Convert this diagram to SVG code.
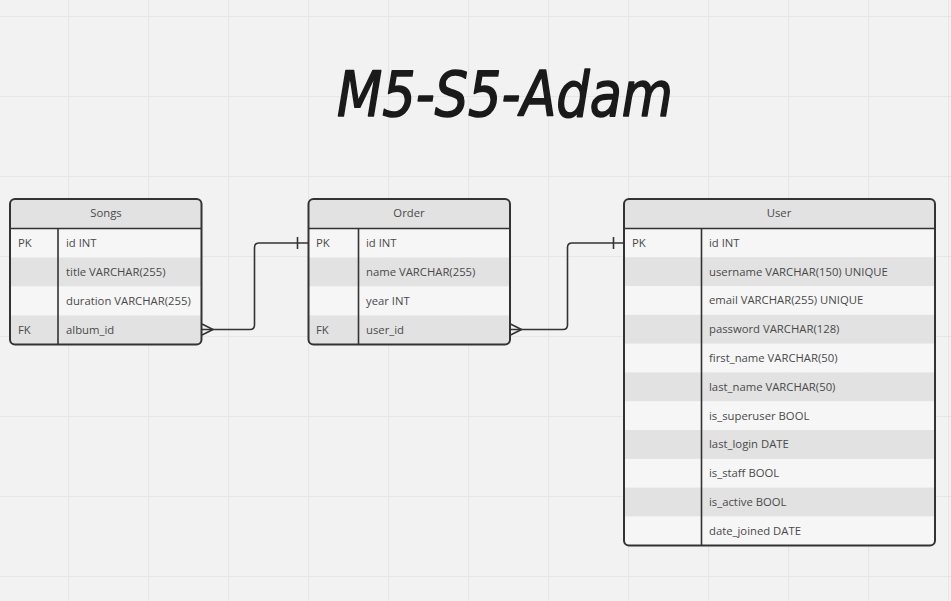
<svg xmlns="http://www.w3.org/2000/svg" width="951" height="601" viewBox="0 0 951 601">
<defs>
<pattern id="grid" x="68" y="16" width="80" height="80" patternUnits="userSpaceOnUse">
<path d="M0.5 0V80M0 0.5H80" stroke="#e6e6e6" stroke-width="1.2" fill="none"/>
</pattern>
</defs>
<style>
.frame{fill:none;stroke:#333;stroke-width:2}
.hdr{fill:#e2e2e2}
.lt{fill:#f6f6f6}
.dk{fill:#e2e2e2}
.ln{stroke:#333;stroke-width:1.6}
.t{font-family:"Open Sans","Liberation Sans",sans-serif;font-size:11.3px;fill:#4a4a4a}
.h{text-anchor:middle}
.c{fill:none;stroke:#333;stroke-width:1.6;stroke-linejoin:round}
.title{font-family:"DejaVu Sans","Liberation Sans",sans-serif;font-style:italic;font-weight:normal;font-size:62px;fill:#1a1a1a;stroke:#1a1a1a;stroke-width:1.6;stroke-linejoin:round}
</style>
<rect width="951" height="601" fill="#f2f2f2"/>
<rect width="951" height="601" fill="url(#grid)"/>
<text class="title" x="337" y="116" textLength="336" lengthAdjust="spacingAndGlyphs">M5-S5-Adam</text>

<g id="songs">
<clipPath id="cs"><rect x="10" y="199" width="191.5" height="145.5" rx="5"/></clipPath>
<g clip-path="url(#cs)">
<rect class="hdr" x="10" y="199" width="192" height="29.5"/>
<rect class="lt" x="10" y="228.5" width="192" height="29"/>
<rect class="dk" x="10" y="257.5" width="192" height="29"/>
<rect class="lt" x="10" y="286.5" width="192" height="29"/>
<rect class="dk" x="10" y="315.5" width="192" height="29"/>
</g>
<line class="ln" x1="10" y1="228.5" x2="201.5" y2="228.5"/>
<line class="ln" x1="58" y1="228.5" x2="58" y2="344.5"/>
<rect class="frame" x="10" y="199" width="191.5" height="145.5" rx="5"/>
<text class="t h" x="106" y="217">Songs</text>
<text class="t" x="18" y="247">PK</text><text class="t" x="66" y="247">id INT</text>
<text class="t" x="66" y="276">title VARCHAR(255)</text>
<text class="t" x="66" y="305">duration VARCHAR(255)</text>
<text class="t" x="18" y="334">FK</text><text class="t" x="66" y="334">album_id</text>
</g>

<g id="order">
<clipPath id="co"><rect x="308.5" y="199" width="201.5" height="145.5" rx="5"/></clipPath>
<g clip-path="url(#co)">
<rect class="hdr" x="308" y="199" width="203" height="29.5"/>
<rect class="lt" x="308" y="228.5" width="203" height="29"/>
<rect class="dk" x="308" y="257.5" width="203" height="29"/>
<rect class="lt" x="308" y="286.5" width="203" height="29"/>
<rect class="dk" x="308" y="315.5" width="203" height="29"/>
</g>
<line class="ln" x1="308.5" y1="228.5" x2="510" y2="228.5"/>
<line class="ln" x1="358.5" y1="228.5" x2="358.5" y2="344.5"/>
<rect class="frame" x="308.5" y="199" width="201.5" height="145.5" rx="5"/>
<text class="t h" x="409" y="217">Order</text>
<text class="t" x="316" y="247">PK</text><text class="t" x="366" y="247">id INT</text>
<text class="t" x="366" y="276">name VARCHAR(255)</text>
<text class="t" x="366" y="305">year INT</text>
<text class="t" x="316" y="334">FK</text><text class="t" x="366" y="334">user_id</text>
</g>

<g id="user">
<clipPath id="cu"><rect x="624" y="199" width="311" height="346.5" rx="5"/></clipPath>
<g clip-path="url(#cu)">
<rect class="hdr" x="624" y="199" width="312" height="29.5"/>
<rect class="lt" x="624" y="228.5" width="312" height="28.8"/>
<rect class="dk" x="624" y="257.3" width="312" height="28.8"/>
<rect class="lt" x="624" y="286.1" width="312" height="28.8"/>
<rect class="dk" x="624" y="314.9" width="312" height="28.8"/>
<rect class="lt" x="624" y="343.7" width="312" height="28.8"/>
<rect class="dk" x="624" y="372.5" width="312" height="28.8"/>
<rect class="lt" x="624" y="401.3" width="312" height="28.8"/>
<rect class="dk" x="624" y="430.1" width="312" height="28.8"/>
<rect class="lt" x="624" y="458.9" width="312" height="28.8"/>
<rect class="dk" x="624" y="487.7" width="312" height="28.8"/>
<rect class="lt" x="624" y="516.5" width="312" height="29"/>
</g>
<line class="ln" x1="624" y1="228.5" x2="935" y2="228.5"/>
<line class="ln" x1="701.5" y1="228.5" x2="701.5" y2="545.5"/>
<rect class="frame" x="624" y="199" width="311" height="346.5" rx="5"/>
<text class="t h" x="779" y="217">User</text>
<text class="t" x="632" y="247">PK</text><text class="t" x="709" y="247">id INT</text>
<text class="t" x="709" y="276">username VARCHAR(150) UNIQUE</text>
<text class="t" x="709" y="304">email VARCHAR(255) UNIQUE</text>
<text class="t" x="709" y="333">password VARCHAR(128)</text>
<text class="t" x="709" y="362">first_name VARCHAR(50)</text>
<text class="t" x="709" y="391">last_name VARCHAR(50)</text>
<text class="t" x="709" y="420">is_superuser BOOL</text>
<text class="t" x="709" y="448">last_login DATE</text>
<text class="t" x="709" y="477">is_staff BOOL</text>
<text class="t" x="709" y="506">is_active BOOL</text>
<text class="t" x="709" y="535">date_joined DATE</text>
</g>

<g id="connectors">
<path class="c" d="M202 329.5H250Q254.5 329.5 254.5 325V247.5Q254.5 243 259 243H308"/>
<path class="c" d="M202 324L213 329.5L202 335"/>
<line class="c" x1="297.5" y1="237" x2="297.5" y2="249"/>
<path class="c" d="M510.5 329.5H563Q567.5 329.5 567.5 325V247.5Q567.5 243 572 243H624"/>
<path class="c" d="M510.5 324L521.5 329.5L510.5 335"/>
<line class="c" x1="613.5" y1="237" x2="613.5" y2="249"/>
</g>
</svg>
